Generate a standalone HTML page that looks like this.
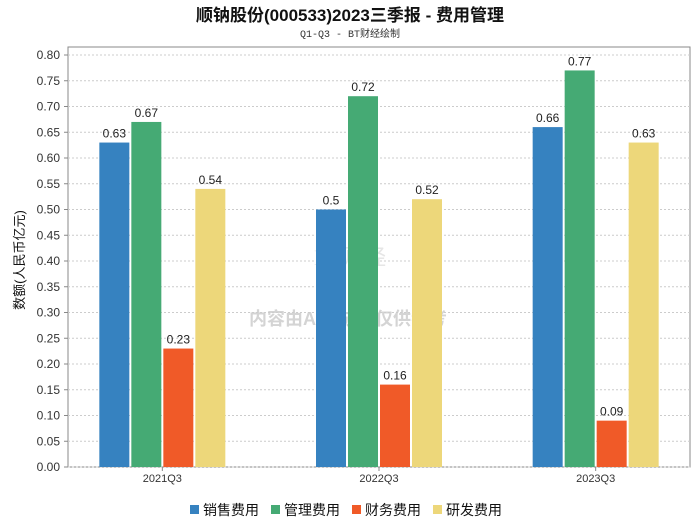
<!DOCTYPE html>
<html><head><meta charset="utf-8"><style>
body{margin:0;background:#fff;width:700px;height:524px;overflow:hidden;font-family:"Liberation Sans","Noto Sans CJK SC",sans-serif}
</style></head><body>
<svg id="c" width="700" height="524" xmlns="http://www.w3.org/2000/svg">
<text x="350" y="21" text-anchor="middle" font-size="17" font-weight="bold" fill="#111" font-family="Liberation Sans,Noto Sans CJK SC,sans-serif">顺钠股份(000533)2023三季报 - 费用管理</text>
<text x="350" y="37" text-anchor="middle" font-size="10" fill="#333" font-family="Liberation Mono,Noto Sans CJK SC,monospace">Q1-Q3 - BT财经绘制</text>
<text x="350" y="265" text-anchor="middle" font-size="22" fill="#e6e6e6" font-family="Liberation Serif,serif">BT财经</text>
<text x="348" y="325" text-anchor="middle" font-size="18" font-weight="bold" fill="#d4d4d4" font-family="Liberation Sans,Noto Sans CJK SC,sans-serif">内容由AI生成，仅供参考</text>
<text x="24" y="260" text-anchor="middle" font-size="13" fill="#111" transform="rotate(-90 24 260)" font-family="Liberation Sans,Noto Sans CJK SC,sans-serif">数额(人民币亿元)</text>
<g id="grid"></g><g id="bars"></g><g id="legend"></g>
</svg>
<script>
const categories=["2021Q3","2022Q3","2023Q3"];
const seriesNames=["销售费用","管理费用","财务费用","研发费用"];
const colors=["#3682c0","#45aa74","#f05a28","#edd77a"];
const sales=[0.63,0.5,0.66];
const admin=[0.67,0.72,0.77];
const finance=[0.23,0.16,0.09];
const rnd=[0.54,0.52,0.63];
const yTicks=[0,0.05,0.1,0.15,0.2,0.25,0.3,0.35,0.4,0.45,0.5,0.55,0.6,0.65,0.7,0.75,0.8];
const series=[sales,admin,finance,rnd];
const NS="http://www.w3.org/2000/svg";
const L=68,R=690,T=47,B=467;
const BL=54,BW=650;
const y=v=>B-v/0.8*412;
const gw=BW/categories.length;
function mk(t,a,p){const e=document.createElementNS(NS,t);for(const k in a)e.setAttribute(k,a[k]);p.appendChild(e);return e;}
const g=document.getElementById('grid'),b=document.getElementById('bars'),lg=document.getElementById('legend');
const frame=mk('rect',{x:L,y:T,width:R-L,height:B-T,fill:'none',stroke:'#888'},g);


yTicks.forEach(v=>{
 const ln=mk('line',{x1:L,x2:R,y1:y(v),y2:y(v),stroke:'#ccc','stroke-dasharray':'2,2'},g);
 
 
 mk('line',{x1:L-4,x2:L,y1:y(v),y2:y(v),stroke:'#888'},g);
 const t=mk('text',{x:L-8,y:y(v)+4,'text-anchor':'end','font-size':12,fill:'#333'},g);
 t.textContent=v.toFixed(2);
 
 
});
const bw=30,gap=2;
categories.forEach((c,i)=>{
 const cx=BL+gw*(i+0.5);
 const t=mk('text',{x:cx,y:B+15,'text-anchor':'middle','font-size':11,fill:'#333'},g);
 t.textContent=c;
 
 
 mk('line',{x1:cx,x2:cx,y1:B,y2:B+4,stroke:'#888'},g);
 series.forEach((s,j)=>{
  const x0=cx-2*bw-1.5*gap+j*(bw+gap);
  const r=mk('rect',{x:x0,y:y(s[i]),width:bw,height:B-y(s[i]),fill:colors[j]},b);
  
  
  const lb=mk('text',{x:x0+bw/2,y:y(s[i])-5,'text-anchor':'middle','font-size':12,fill:'#222'},b);
  lb.textContent=String(s[i]);
  
  
 });
});
let lx=190;
seriesNames.forEach((n,j)=>{
 const r=mk('rect',{x:lx,y:505,width:9,height:9,fill:colors[j]},lg);
 
 
 const t=mk('text',{x:lx+13,y:515,'font-size':14,fill:'#111'},lg);
 t.textContent=n;
 
 
 lx+=81;
});
</script>
</body></html>
